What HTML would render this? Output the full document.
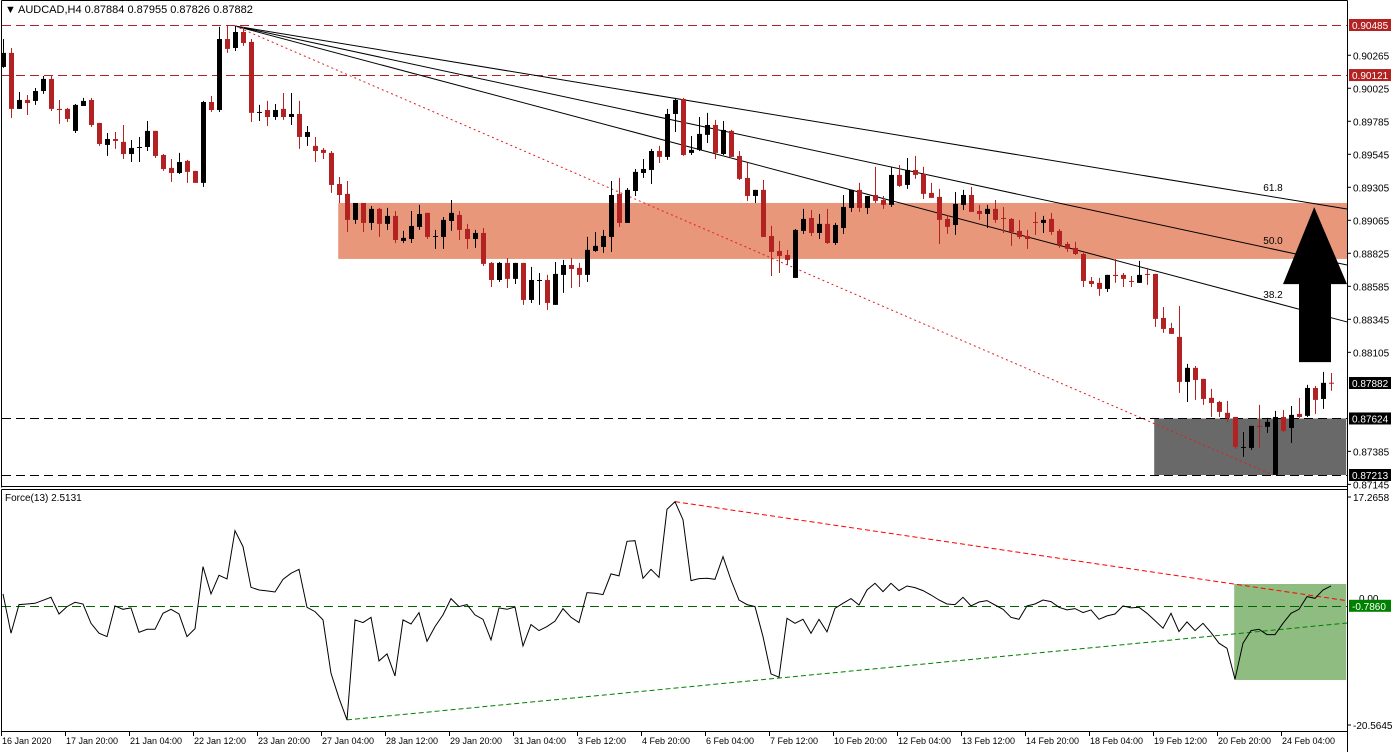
<!DOCTYPE html>
<html><head><meta charset="utf-8"><style>
html,body{margin:0;padding:0;background:#fff;}
svg{display:block;font-family:"Liberation Sans",sans-serif;}
</style></head><body>
<svg id="chart" width="1394" height="752" viewBox="0 0 1394 752" xmlns="http://www.w3.org/2000/svg">
<rect x="0" y="0" width="1394" height="752" fill="#fff"/>
<g id="main"></g>
<g id="osc"></g>
<g id="axes"></g>
</svg>
<script>
const opens=[0.90180,0.90282,0.89875,0.89940,0.89933,0.90005,0.90093,0.89875,0.89875,0.89715,0.89896,0.89940,0.89773,0.89613,0.89656,0.89635,0.89547,0.89591,0.89598,0.89715,0.89540,0.89446,0.89409,0.89497,0.89424,0.89337,0.89925,0.89867,0.90383,0.90318,0.90434,0.90362,0.89846,0.89867,0.89816,0.89875,0.89816,0.89838,0.89671,0.89606,0.89577,0.89555,0.89329,0.89257,0.89068,0.89191,0.89046,0.89148,0.89039,0.89097,0.88915,0.88929,0.89017,0.89119,0.88951,0.88944,0.89060,0.89104,0.89002,0.88929,0.88973,0.88755,0.88631,0.88755,0.88639,0.88755,0.88486,0.88631,0.88631,0.88450,0.88668,0.88740,0.88719,0.88668,0.88842,0.88871,0.88944,0.89257,0.89046,0.89278,0.89409,0.89431,0.89569,0.89526,0.89838,0.89947,0.89555,0.89577,0.89686,0.89758,0.89547,0.89715,0.89533,0.89373,0.89242,0.89286,0.88951,0.88842,0.88813,0.88646,0.88988,0.89082,0.88973,0.89039,0.88900,0.89009,0.89155,0.89286,0.89155,0.89249,0.89213,0.89177,0.89395,0.89322,0.89431,0.89402,0.89264,0.89235,0.89075,0.89031,0.89177,0.89249,0.89133,0.89111,0.89148,0.89082,0.89075,0.88988,0.88951,0.89053,0.89046,0.89075,0.88988,0.88893,0.88864,0.88820,0.88624,0.88610,0.88566,0.88668,0.88668,0.88624,0.88610,0.88675,0.88675,0.88355,0.88282,0.88217,0.87890,0.87992,0.87912,0.87774,0.87744,0.87665,0.87635,0.87417,0.87410,0.87570,0.87563,0.87214,0.87635,0.87555,0.87657,0.87643,0.87846,0.87766,0.87884];
const highs=[0.90383,0.90318,0.89998,0.89976,0.90027,0.90114,0.90114,0.89940,0.89882,0.89911,0.89955,0.89955,0.89773,0.89700,0.89707,0.89758,0.89649,0.89671,0.89787,0.89715,0.89547,0.89511,0.89555,0.89504,0.89424,0.89933,0.89969,0.90471,0.90478,0.90478,0.90471,0.90383,0.89904,0.89933,0.89911,0.89991,0.89991,0.89933,0.89751,0.89671,0.89591,0.89569,0.89380,0.89351,0.89191,0.89191,0.89169,0.89155,0.89155,0.89133,0.88988,0.89133,0.89177,0.89119,0.88995,0.89089,0.89213,0.89133,0.89039,0.88995,0.89009,0.88762,0.88762,0.88791,0.88755,0.88755,0.88726,0.88682,0.88668,0.88762,0.88777,0.88791,0.88755,0.88944,0.88980,0.88995,0.89351,0.89373,0.89300,0.89438,0.89511,0.89584,0.89606,0.89875,0.89955,0.89955,0.89678,0.89816,0.89846,0.89795,0.89787,0.89722,0.89569,0.89482,0.89286,0.89358,0.89024,0.88915,0.88850,0.89002,0.89148,0.89140,0.89111,0.89148,0.89046,0.89249,0.89286,0.89337,0.89242,0.89453,0.89242,0.89453,0.89467,0.89518,0.89533,0.89453,0.89337,0.89293,0.89104,0.89271,0.89286,0.89308,0.89177,0.89177,0.89213,0.89162,0.89082,0.89068,0.88995,0.89126,0.89097,0.89119,0.89002,0.88908,0.88908,0.88828,0.88653,0.88646,0.88668,0.88784,0.88682,0.88660,0.88770,0.88719,0.88675,0.88435,0.88319,0.88442,0.88021,0.88006,0.87912,0.87839,0.87752,0.87752,0.87635,0.87526,0.87570,0.87723,0.87628,0.87679,0.87686,0.87715,0.87774,0.87868,0.87861,0.87963,0.87955];
const lows=[0.90173,0.89809,0.89875,0.89831,0.89904,0.89984,0.89860,0.89766,0.89780,0.89700,0.89896,0.89744,0.89606,0.89533,0.89584,0.89511,0.89489,0.89489,0.89569,0.89518,0.89424,0.89344,0.89402,0.89337,0.89337,0.89308,0.89853,0.89853,0.90282,0.90296,0.90333,0.89780,0.89787,0.89751,0.89795,0.89795,0.89758,0.89584,0.89606,0.89489,0.89511,0.89264,0.89191,0.88980,0.89039,0.88980,0.88995,0.88944,0.88995,0.88900,0.88900,0.88900,0.88995,0.88929,0.88857,0.88857,0.88988,0.88922,0.88857,0.88864,0.88733,0.88580,0.88617,0.88573,0.88602,0.88450,0.88464,0.88450,0.88413,0.88450,0.88537,0.88573,0.88580,0.88617,0.88835,0.88828,0.88835,0.89017,0.89046,0.89242,0.89373,0.89329,0.89482,0.89504,0.89707,0.89533,0.89540,0.89569,0.89627,0.89511,0.89540,0.89526,0.89358,0.89206,0.89191,0.88944,0.88660,0.88682,0.88740,0.88646,0.88966,0.88951,0.88929,0.88893,0.88886,0.88966,0.89126,0.89126,0.89111,0.89191,0.89148,0.89162,0.89308,0.89293,0.89366,0.89220,0.89228,0.88893,0.88966,0.88959,0.89140,0.89126,0.89068,0.89009,0.89046,0.88973,0.88879,0.88929,0.88857,0.88959,0.88973,0.88959,0.88864,0.88835,0.88813,0.88580,0.88580,0.88515,0.88544,0.88610,0.88580,0.88580,0.88610,0.88595,0.88290,0.88246,0.88239,0.87810,0.87744,0.87759,0.87723,0.87635,0.87635,0.87599,0.87403,0.87345,0.87396,0.87410,0.87519,0.87214,0.87526,0.87446,0.87628,0.87635,0.87657,0.87694,0.87826];
const closes=[0.90282,0.89875,0.89940,0.89918,0.90005,0.90093,0.89875,0.89867,0.89802,0.89904,0.89933,0.89758,0.89620,0.89656,0.89642,0.89547,0.89591,0.89598,0.89715,0.89533,0.89438,0.89409,0.89489,0.89417,0.89337,0.89925,0.89867,0.90383,0.90311,0.90434,0.90354,0.89846,0.89853,0.89816,0.89867,0.89816,0.89838,0.89671,0.89707,0.89569,0.89555,0.89322,0.89249,0.89068,0.89191,0.89046,0.89148,0.89039,0.89097,0.88922,0.88937,0.89024,0.89111,0.88944,0.88951,0.89068,0.89119,0.88995,0.88929,0.88973,0.88748,0.88631,0.88755,0.88639,0.88755,0.88486,0.88631,0.88631,0.88464,0.88675,0.88740,0.88711,0.88668,0.88850,0.88879,0.88951,0.89249,0.89046,0.89286,0.89417,0.89438,0.89569,0.89526,0.89838,0.89940,0.89540,0.89577,0.89693,0.89758,0.89555,0.89722,0.89526,0.89366,0.89242,0.89286,0.88944,0.88835,0.88806,0.88777,0.88995,0.89075,0.88973,0.89039,0.88900,0.89031,0.89162,0.89286,0.89155,0.89242,0.89206,0.89177,0.89395,0.89315,0.89431,0.89395,0.89257,0.89228,0.89068,0.89017,0.89184,0.89249,0.89126,0.89111,0.89148,0.89068,0.89075,0.88980,0.88944,0.88929,0.89046,0.89068,0.88980,0.88886,0.88857,0.88820,0.88624,0.88602,0.88566,0.88668,0.88660,0.88639,0.88617,0.88668,0.88668,0.88348,0.88275,0.88239,0.87890,0.87992,0.87904,0.87766,0.87737,0.87672,0.87628,0.87417,0.87417,0.87570,0.87563,0.87599,0.87635,0.87534,0.87650,0.87635,0.87846,0.87759,0.87883,0.87882];
const forceValues=[1.18,-5.34,-0.59,-0.48,-0.37,0.13,0.63,-2.14,-0.92,-0.20,-0.48,-3.69,-5.34,-5.90,-0.81,-1.36,-1.14,-5.18,-4.68,-4.68,-2.03,-1.36,-2.14,-5.90,-4.57,5.71,1.18,4.28,3.67,11.68,9.03,2.29,1.84,1.68,1.51,3.61,4.61,5.27,-1.03,-1.75,-3.13,-11.98,-16.12,-19.72,-3.13,-3.57,-2.69,-9.93,-8.77,-12.42,-3.13,-3.80,-1.92,-6.67,-4.24,-2.30,0.40,-0.92,-0.59,-2.30,-3.02,-6.45,-1.14,-1.36,-0.98,-7.44,-3.91,-4.90,-4.24,-3.35,-1.25,-2.69,-3.57,1.40,1.29,1.07,4.50,4.17,9.91,10.02,3.78,5.27,3.94,15.22,16.49,13.5,3.39,3.72,3.78,3.61,7.37,3.50,0.18,-0.59,-0.92,-5.90,-12.09,-12.64,-2.86,-3.69,-3.02,-5.34,-3.02,-5.12,-1.20,-0.37,0.40,-0.65,1.84,2.95,1.57,2.95,1.73,2.50,2.23,1.73,1.01,0.18,-0.48,-0.59,0.63,-0.81,-0.15,0.07,-0.65,-1.36,-2.69,-3.02,-0.81,-0.48,0.18,-0.09,-1.03,-1.47,-1.25,-1.92,-1.47,-3.02,-2.47,-2.14,-0.81,-1.14,-1.03,-2.03,-3.24,-4.51,-2.03,-5.07,-3.46,-4.90,-3.69,-5.23,-7.00,-7.83,-12.97,-7.00,-4.90,-4.68,-5.56,-5.56,-3.69,-2.03,-1.36,0.74,0.46,1.84,2.51];
const priceTicks=[0.90265,0.90025,0.89785,0.89545,0.89305,0.89065,0.88825,0.88585,0.88345,0.88105,0.87385,0.87145];
const priceTickLabels=["0.90265","0.90025","0.89785","0.89545","0.89305","0.89065","0.88825","0.88585","0.88345","0.88105","0.87385","0.87145"];
const levelsRed=[0.90485,0.90121];
const levelsRedLabels=["0.90485","0.90121"];
const levelsBlack=[0.87624,0.87213];
const levelsBlackLabels=["0.87624","0.87213"];
const timeLabels=["16 Jan 2020","17 Jan 20:00","21 Jan 04:00","22 Jan 12:00","23 Jan 20:00","27 Jan 04:00","28 Jan 12:00","29 Jan 20:00","31 Jan 04:00","3 Feb 12:00","4 Feb 20:00","6 Feb 04:00","7 Feb 12:00","10 Feb 20:00","12 Feb 04:00","13 Feb 12:00","14 Feb 20:00","18 Feb 04:00","19 Feb 12:00","20 Feb 20:00","24 Feb 04:00"];
const timeLabelBars=[0,8,16,24,32,40,48,56,64,72,80,88,96,104,112,120,128,136,144,152,160];
const oscLevel=-0.786;

const NS="http://www.w3.org/2000/svg";
const P_MIN=0.87213,P_MAX=0.90485,PY_BOT=475,PY_TOP=25;
const F_MIN=-20.5645,F_MAX=17.2658,FY_BOT=725,FY_TOP=497;
const RIGHT=1347;
function xs(i){return 3+8*i;}
function ys(p){return PY_BOT-(p-P_MIN)/(P_MAX-P_MIN)*(PY_BOT-PY_TOP);}
function yf(v){return FY_BOT-(v-F_MIN)/(F_MAX-F_MIN)*(FY_BOT-FY_TOP);}
function mk(tag,attrs,parent){const e=document.createElementNS(NS,tag);for(const k in attrs)e.setAttribute(k,attrs[k]);parent.appendChild(e);return e;}
const main=document.getElementById('main'),osc=document.getElementById('osc'),axes=document.getElementById('axes');

let r=mk('rect',{x:xs(41.9),y:ys(0.89191),width:RIGHT-xs(41.9),height:ys(0.88784)-ys(0.89191),fill:'#e9977b'},main);


r=mk('rect',{x:xs(143.9),y:ys(0.87624),width:xs(167.9)-xs(143.9),height:ys(0.87213)-ys(0.87624),fill:'#696969'},main);



levelsRed.forEach((p,k)=>{const l=mk('line',{x1:2,x2:RIGHT,y1:Math.round(ys(p))+0.5,y2:Math.round(ys(p))+0.5,stroke:'#b22222','stroke-width':1,'stroke-dasharray':'9 5'},main);

});
levelsBlack.forEach((p,k)=>{const l=mk('line',{x1:2,x2:RIGHT,y1:Math.round(ys(p))+0.5,y2:Math.round(ys(p))+0.5,stroke:'#000','stroke-width':1,'stroke-dasharray':'9 5'},main);

});

const fo=[29,0.90478];
[[0.89147,'61.8'],[0.88740,'50.0'],[0.88326,'38.2']].forEach((f,k)=>{
 const l=mk('line',{x1:xs(fo[0]),y1:ys(fo[1]),x2:xs(168),y2:ys(f[0]),stroke:'#000','stroke-width':1},main);
 
 
});
[[0.89307,'61.8'],[0.88921,'50.0'],[0.88529,'38.2']].forEach(f=>{
 const t=mk('text',{x:xs(158.75),y:ys(f[0])+4,'font-size':10,'text-anchor':'middle',fill:'#000'},main);t.textContent=f[1];
 
 
});
let dl=mk('line',{x1:xs(fo[0]),y1:ys(fo[1]),x2:xs(158.75),y2:ys(0.87213),stroke:'#e02020','stroke-width':1,'stroke-dasharray':'2 3'},main);



for(let i=0;i<opens.length;i++){
 const bull=closes[i]>=opens[i];const col=bull?'#000':'#b22222';
 const g=mk('g',{},main);
 
 
 mk('line',{x1:xs(i)+0.5,x2:xs(i)+0.5,y1:ys(highs[i]),y2:ys(lows[i]),stroke:col,'stroke-width':1},g);
 const top=ys(Math.max(opens[i],closes[i])),bot=ys(Math.min(opens[i],closes[i]));
 mk('rect',{x:xs(i)-2,y:top,width:5,height:Math.max(1,bot-top),fill:col},g);
}

const ar=mk('polygon',{points:[[xs(162),ys(0.88034)],[xs(166),ys(0.88034)],[xs(166),ys(0.88601)],[xs(168),ys(0.88601)],[xs(163.9),ys(0.89161)],[xs(160),ys(0.88601)],[xs(162),ys(0.88601)]].map(p=>p.join(',')).join(' '),fill:'#000'},main);



let h=mk('text',{x:5,y:13,'font-size':11,fill:'#000'},main);h.textContent='▼';


h=mk('text',{x:18,y:13,'font-size':11,fill:'#000'},main);h.textContent='AUDCAD,H4  0.87884 0.87955 0.87826 0.87882';



const gz=mk('rect',{x:xs(153.9),y:yf(2.83),width:xs(167.9)-xs(153.9),height:yf(-13.1)-yf(2.83),fill:'#8fbc80'},osc);


let ol=mk('line',{x1:2,x2:RIGHT,y1:Math.round(yf(oscLevel))+0.5,y2:Math.round(yf(oscLevel))+0.5,stroke:'#006400','stroke-width':1,'stroke-dasharray':'9 5'},osc);


ol=mk('line',{x1:xs(84),y1:yf(16.49),x2:xs(168),y2:yf(0.06),stroke:'#f00','stroke-width':1,'stroke-dasharray':'5 3'},osc);


ol=mk('line',{x1:xs(43),y1:yf(-19.72),x2:xs(168),y2:yf(-3.64),stroke:'#008000','stroke-width':1,'stroke-dasharray':'5 3'},osc);


const fl=mk('polyline',{points:forceValues.map((v,i)=>xs(i)+','+yf(v).toFixed(1)).join(' '),fill:'none',stroke:'#000','stroke-width':1},osc);


h=mk('text',{x:5,y:501,'font-size':10,fill:'#000'},osc);h.textContent='Force(13) 2.5131';



[[1,0,1,487],[RIGHT,0,RIGHT,752],[1,486,RIGHT,486],[1,489,1,731],[1,489,RIGHT,489],[1,731,RIGHT,731],[1,0,RIGHT,0]].forEach(a=>{
 const l=mk('line',{x1:a[0]+0.5,y1:a[1]+0.5,x2:a[2]+0.5,y2:a[3]+0.5,stroke:'#000','stroke-width':1},axes);
 
 
});

priceTicks.forEach((p,k)=>{
 mk('line',{x1:RIGHT,x2:RIGHT+4,y1:ys(p),y2:ys(p),stroke:'#000'},axes);
 const t=mk('text',{x:RIGHT+6,y:ys(p)+4,'font-size':10,fill:'#000'},axes);t.textContent=priceTickLabels[k];
 
 
});
function tag(p,label,bg,name,fy){
 const y=fy?yf(p):ys(p);
 const b=mk('rect',{x:RIGHT+2,y:y-6,width:42,height:12,fill:bg},axes);
 
 
 const t=mk('text',{x:RIGHT+5,y:y+4,'font-size':10,fill:'#fff'},axes);t.textContent=label;
 
 
}
levelsRed.forEach((p,k)=>tag(p,levelsRedLabels[k],'#b22222','resistance-price-tag'));
levelsBlack.forEach((p,k)=>tag(p,levelsBlackLabels[k],'#000','support-price-tag'));
tag(closes[closes.length-1],closes[closes.length-1].toFixed(5),'#000','last-price-tag');

[[F_MAX,'17.2658'],[F_MIN,'-20.5645']].forEach(a=>{
 mk('line',{x1:RIGHT,x2:RIGHT+4,y1:yf(a[0]),y2:yf(a[0]),stroke:'#000'},axes);
 const t=mk('text',{x:RIGHT+6,y:yf(a[0])+4,'font-size':10,fill:'#000'},axes);t.textContent=a[1];
 
 
});
h=mk('text',{x:RIGHT+12,y:yf(0)+1,'font-size':10,fill:'#000'},axes);h.textContent='0.00';


tag(oscLevel,oscLevel.toFixed(4),'#008000','force-level-tag',true);

timeLabels.forEach((s,k)=>{
 const x=xs(timeLabelBars[k])-2;
 mk('line',{x1:x+0.5,x2:x+0.5,y1:731,y2:736,stroke:'#000'},axes);
 const t=mk('text',{x:x+1,y:744,'font-size':9,fill:'#000'},axes);t.textContent=s;
 
 
});
</script>
</body></html>
